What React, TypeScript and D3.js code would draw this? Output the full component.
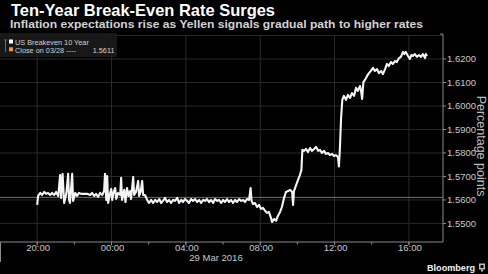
import React from "react";
import * as d3 from "d3";

const W = 488;
const H = 274;

const titleText = "Ten-Year Break-Even Rate Surges";
const subtitleText = "Inflation expectations rise as Yellen signals gradual path to higher rates";
const seriesName = "US Breakeven 10 Year";
const closeLabel = "Close on 03/28 ----";
const closeValue = 1.5611;
const yAxisLabel = "Percentage points";
const dateLabel = "29 Mar 2016";
const sourceLabel = "Bloomberg";

const yTicks = [1.55, 1.56, 1.57, 1.58, 1.59, 1.6, 1.61, 1.62];

// minutes after 20:00 on 28 Mar 2016
const minutesAfter2000 = [
  0, 3, 10, 16, 23, 29, 35, 42, 48, 55, 61, 68, 74, 77, 82, 87, 94, 100, 103, 106,
  113, 116, 123, 129, 135, 142, 152, 161, 171, 177, 184, 190, 197, 203, 210, 216, 219, 223, 226, 229,
  234, 239, 242, 247, 252, 255, 261, 268, 271, 274, 281, 285, 290, 295, 300, 303, 310, 313, 319, 326,
  329, 334, 339, 342, 348, 355, 361, 368, 374, 381, 387, 394, 400, 406, 413, 419, 426, 432, 439, 445,
  452, 458, 465, 471, 477, 484, 490, 497, 503, 510, 516, 523, 529, 536, 542, 548, 555, 561, 568, 574,
  581, 587, 594, 600, 606, 613, 619, 626, 632, 639, 645, 652, 658, 665, 671, 677, 684, 689, 692, 697,
  703, 710, 716, 723, 729, 736, 742, 748, 755, 758, 765, 771, 777, 784, 790, 797, 803, 810, 816, 823,
  826, 829, 835, 842, 848, 853, 856, 861, 868, 874, 881, 887, 894, 900, 907, 913, 919, 926, 932, 939,
  945, 952, 958, 964, 971, 974, 977, 981, 985, 990, 997, 1003, 1010, 1016, 1023, 1029, 1035, 1042, 1045, 1049,
  1053, 1058, 1065, 1071, 1077, 1084, 1090, 1097, 1103, 1110, 1116, 1123, 1129, 1135, 1142, 1148, 1155, 1161, 1168, 1174,
  1181, 1185, 1190, 1197, 1203, 1208, 1213, 1219, 1226, 1232, 1239, 1245, 1252, 1255, 1258,
];

const breakeven = [
  1.5579, 1.5617, 1.563, 1.5621, 1.5634, 1.5626, 1.563, 1.5621, 1.563, 1.5621, 1.5634, 1.5617, 1.5706, 1.5609, 1.5711, 1.5587, 1.5626, 1.5711, 1.56, 1.5587,
  1.5711, 1.5596, 1.563, 1.5617, 1.563, 1.5626, 1.5626, 1.5626, 1.5621, 1.563, 1.5617, 1.5626, 1.5613, 1.563, 1.5621, 1.5638, 1.5711, 1.56, 1.5702, 1.5587,
  1.5621, 1.5647, 1.56, 1.5634, 1.5651, 1.5604, 1.563, 1.5621, 1.5694, 1.56, 1.5643, 1.5591, 1.5651, 1.5617, 1.5638, 1.5604, 1.5698, 1.5621, 1.5634, 1.5681,
  1.5617, 1.5634, 1.5681, 1.5621, 1.5621, 1.56, 1.5587, 1.56, 1.5587, 1.56, 1.5591, 1.5604, 1.5587, 1.5596, 1.5609, 1.5591, 1.56, 1.5587, 1.56, 1.5596,
  1.5609, 1.5587, 1.56, 1.5591, 1.5604, 1.5596, 1.5587, 1.5604, 1.5596, 1.5604, 1.5591, 1.56, 1.5587, 1.56, 1.5596, 1.5604, 1.5591, 1.56, 1.5587, 1.5604,
  1.5596, 1.56, 1.5587, 1.56, 1.5591, 1.5604, 1.5591, 1.56, 1.5587, 1.56, 1.5591, 1.5604, 1.5596, 1.56, 1.5591, 1.5604, 1.56, 1.5651, 1.5596, 1.5583,
  1.5587, 1.557, 1.5579, 1.5562, 1.5566, 1.5553, 1.5545, 1.5549, 1.5523, 1.5506, 1.5519, 1.5511, 1.5532, 1.5549, 1.557, 1.5609, 1.5634, 1.5638, 1.5643, 1.5634,
  1.5579, 1.5638, 1.566, 1.5685, 1.5706, 1.5728, 1.5813, 1.5809, 1.5817, 1.5804, 1.5821, 1.5809, 1.5817, 1.5826, 1.5809, 1.5813, 1.58, 1.5809, 1.5796, 1.58,
  1.5791, 1.5796, 1.5787, 1.5791, 1.5783, 1.5743, 1.5813, 1.5949, 1.6026, 1.6043, 1.6026, 1.6047, 1.6034, 1.6055, 1.6043, 1.6077, 1.6064, 1.6085, 1.6068, 1.603,
  1.6102, 1.6111, 1.6128, 1.614, 1.6149, 1.6162, 1.6149, 1.6157, 1.614, 1.6149, 1.6136, 1.6157, 1.6179, 1.617, 1.6187, 1.6179, 1.6191, 1.6187, 1.6204, 1.6209,
  1.623, 1.6221, 1.623, 1.6213, 1.62, 1.6217, 1.6213, 1.6221, 1.6209, 1.6217, 1.6209, 1.6221, 1.6204, 1.6221, 1.6213,
];

const start = new Date(Date.UTC(2016, 2, 28, 18, 0));
const end = new Date(Date.UTC(2016, 2, 29, 17, 50));
const base = Date.UTC(2016, 2, 28, 20, 0);

const plotLeft = 0;
const plotRight = 443;
const plotTop = 35.5;
const plotBottom = 242;

export default function App() {
  const x = d3.scaleUtc().domain([start, end]).range([plotLeft, plotRight]);
  const y = d3.scaleLinear().domain([1.5421, 1.63]).range([plotBottom, plotTop]);

  const pts = minutesAfter2000.map((m, i) => ({ t: new Date(base + m * 60000), v: breakeven[i] }));
  const line = d3
    .line<{ t: Date; v: number }>()
    .x((d) => x(d.t))
    .y((d) => y(d.v));

  const majorTicks = x.ticks(d3.utcHour.every(4)!);
  const minorTicks = x.ticks(d3.utcHour.every(2)!);
  const fmt = d3.utcFormat("%H:%M");
  const gridYs = [...yTicks, 1.63];

  const font = "'Liberation Sans', Arial, sans-serif";

  return (
    <svg
      width={W}
      height={H}
      style={{ position: "fixed", left: 0, top: 0, background: "#000" }}
      fontFamily={font}
    >
      <rect x={0} y={0} width={W} height={H} fill="#000" />
      {/* grid */}
      {gridYs.map((v) => (
        <line key={"gy" + v} x1={plotLeft} x2={plotRight} y1={y(v)} y2={y(v)} stroke="#2a2a2a" strokeWidth={1} />
      ))}
      {majorTicks.map((t) => (
        <line key={"gx" + t.getTime()} x1={x(t)} x2={x(t)} y1={plotTop} y2={plotBottom} stroke="#2a2a2a" strokeWidth={1} />
      ))}
      {/* close line */}
      <line x1={plotLeft} x2={plotRight} y1={y(closeValue)} y2={y(closeValue)} stroke="#9a6a30" strokeWidth={1} />
      {/* series */}
      <path d={line(pts) || ""} fill="none" stroke="#f4f4f4" strokeWidth={2.1} strokeLinejoin="round" />
      {/* axes */}
      <line x1={plotLeft} x2={plotRight} y1={plotBottom} y2={plotBottom} stroke="#8a8a8a" strokeWidth={1} />
      <line x1={plotRight} x2={plotRight} y1={plotTop - 1.5} y2={plotBottom} stroke="#8a8a8a" strokeWidth={1} />
      <line x1={plotRight - 3} x2={plotRight} y1={plotTop - 1.5} y2={plotTop - 1.5} stroke="#8a8a8a" strokeWidth={1} />
      <line x1={0.5} x2={0.5} y1={plotBottom} y2={262} stroke="#8a8a8a" strokeWidth={1} />
      {minorTicks.map((t) => (
        <line key={"mt" + t.getTime()} x1={x(t)} x2={x(t)} y1={plotBottom} y2={plotBottom + 2.5} stroke="#8a8a8a" strokeWidth={1} />
      ))}
      {majorTicks.map((t) => (
        <g key={"xt" + t.getTime()}>
          <line x1={x(t)} x2={x(t)} y1={plotBottom} y2={plotBottom + 3.5} stroke="#8a8a8a" strokeWidth={1} />
          <text x={x(t) + 1} y={251} fontSize={9.5} fill="#c8c8c8" textAnchor="middle">
            {fmt(t)}
          </text>
        </g>
      ))}
      <text x={216} y={261} fontSize={9.5} fill="#c8c8c8" textAnchor="middle">
        {dateLabel}
      </text>
      {yTicks.map((v) => (
        <g key={"yt" + v}>
          <line x1={plotRight} x2={plotRight + 3} y1={y(v)} y2={y(v)} stroke="#8a8a8a" strokeWidth={1} />
          <text x={447} y={y(v) + 3.3} fontSize={9.5} fill="#c8c8c8">
            {v.toFixed(4)}
          </text>
        </g>
      ))}
      <text
        transform={`translate(477,146) rotate(90)`}
        fontSize={12.5}
        fill="#bdbdbd"
        textAnchor="middle"
      >
        {yAxisLabel}
      </text>
      {/* legend */}
      <rect x={0} y={33} width={117} height={24} fill="#1a1a1a" opacity={0.92} />
      <line x1={5.5} x2={5.5} y1={40} y2={52} stroke="#6a6a6a" strokeWidth={1} />
      <line x1={4} x2={7} y1={40} y2={40} stroke="#6a6a6a" strokeWidth={1} />
      <rect x={9} y={39.5} width={4} height={4} fill="#ffffff" />
      <text x={15} y={44.8} fontSize={7.3} fill="#d0d0d0">
        {seriesName}
      </text>
      <rect x={9} y={47.3} width={4} height={4} fill="#e89a2c" />
      <text x={15} y={52.6} fontSize={7.3} fill="#d0d0d0">
        {closeLabel}
      </text>
      <text x={92.7} y={52.6} fontSize={7.3} fill="#d0d0d0">
        {closeValue.toFixed(4)}
      </text>
      {/* titles */}
      <text x={11} y={16.3} fontSize={16.3} fontWeight="bold" fill="#ffffff" textLength={264} lengthAdjust="spacingAndGlyphs">
        {titleText}
      </text>
      <text x={10} y={27.5} fontSize={10} fontWeight="bold" fill="#d2d2d2" textLength={413} lengthAdjust="spacingAndGlyphs">
        {subtitleText}
      </text>
      {/* source */}
      <text x={427} y={271} fontSize={9.2} fontWeight="bold" fill="#f0f0f0" textLength={48} lengthAdjust="spacingAndGlyphs">
        {sourceLabel}
      </text>
      <rect x={479} y={263.5} width={6} height={6} fill="#bdbdbd" />
      <rect x={480.5} y={265} width={3} height={3} fill="#000" />
      <rect x={481} y={269.5} width={2} height={2} fill="#bdbdbd" />
    </svg>
  );
}
